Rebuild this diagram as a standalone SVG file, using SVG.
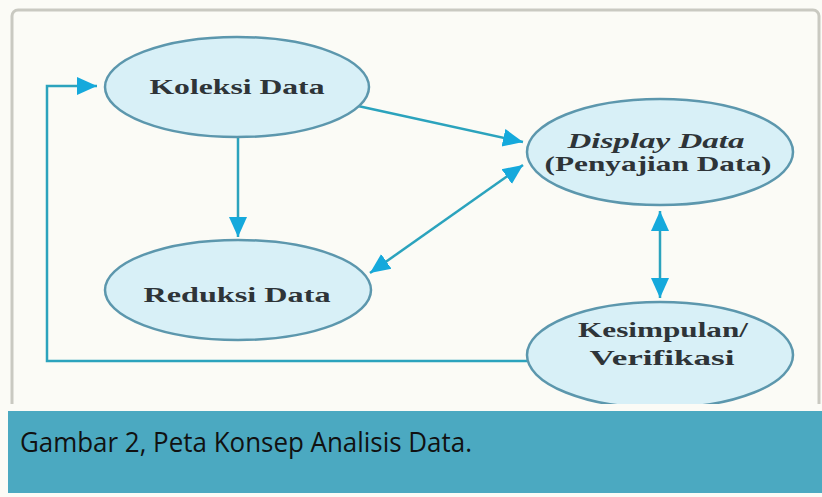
<svg xmlns="http://www.w3.org/2000/svg" width="822" height="497" viewBox="0 0 822 497">
<style>
.node ellipse{fill:#d8f0f7;stroke:#5c97ad;stroke-width:2.5}
.lbl{font-family:"Liberation Serif","DejaVu Serif",serif;font-weight:bold;font-size:22px;fill:#2e3438;text-anchor:middle}
.conn{fill:none;stroke:#2ba3bd;stroke-width:2.5}
.cap{font-family:"Open Sans","Noto Sans","Liberation Sans",sans-serif;font-size:27px;fill:#111}
</style>
<defs>
<marker id="ah" viewBox="0 0 10 10" refX="10" refY="5" markerWidth="8" markerHeight="8" orient="auto-start-reverse" markerUnits="strokeWidth">
<path d="M0,0.5 L10,5 L0,9.5 Z" fill="#15a9dc"/>
</marker>
</defs>
<rect x="0" y="0" width="822" height="497" fill="#fbfbf6"/>
<rect x="12" y="10" width="807" height="420" rx="6" fill="#fbfbf6" stroke="#c9c9c1" stroke-width="3"/>
<g id="connectors">
<polyline class="conn" points="530,361 47,361 47,86 97,86" marker-end="url(#ah)"/>
<line class="conn" x1="238" y1="138" x2="238" y2="237" marker-end="url(#ah)"/>
<line class="conn" x1="358" y1="106" x2="523" y2="142" marker-end="url(#ah)"/>
<line class="conn" x1="370" y1="273" x2="523" y2="165" marker-start="url(#ah)" marker-end="url(#ah)"/>
<line class="conn" x1="660" y1="211" x2="660" y2="298" marker-start="url(#ah)" marker-end="url(#ah)"/>
</g>
<g id="koleksi" class="node">
<ellipse cx="237" cy="87" rx="132" ry="50"/>
<text class="lbl" x="237" y="94" textLength="175" lengthAdjust="spacingAndGlyphs">Koleksi Data</text>
</g>
<g id="display" class="node">
<ellipse cx="660" cy="152" rx="133" ry="53"/>
<text class="lbl" x="656" y="148" font-style="italic" textLength="177" lengthAdjust="spacingAndGlyphs">Display Data</text>
<text class="lbl" x="658" y="171" textLength="227" lengthAdjust="spacingAndGlyphs">(Penyajian Data)</text>
</g>
<g id="reduksi" class="node">
<ellipse cx="238" cy="290" rx="133" ry="50"/>
<text class="lbl" x="237" y="302" textLength="187" lengthAdjust="spacingAndGlyphs">Reduksi Data</text>
</g>
<g id="kesimpulan" class="node">
<ellipse cx="660" cy="355" rx="133" ry="53"/>
<text class="lbl" x="663" y="337" textLength="170" lengthAdjust="spacingAndGlyphs">Kesimpulan/</text>
<text class="lbl" x="662" y="365" textLength="145" lengthAdjust="spacingAndGlyphs">Verifikasi</text>
</g>
<rect x="0" y="404" width="822" height="7" fill="#fbfbf6"/>
<rect x="8" y="411" width="814" height="82" fill="#4ba9c1"/>
<text class="cap" x="20" y="452" textLength="452" lengthAdjust="spacingAndGlyphs">Gambar 2, Peta Konsep Analisis Data.</text>
</svg>
